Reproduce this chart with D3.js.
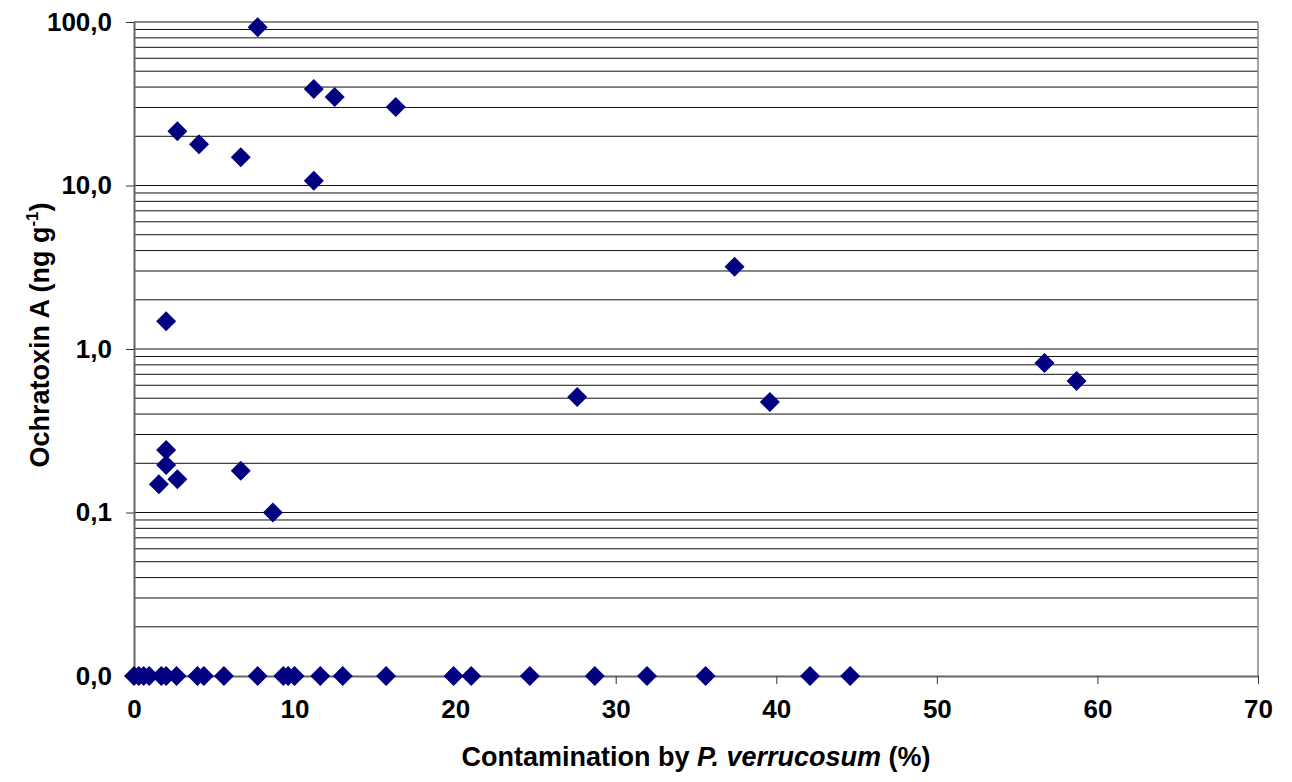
<!DOCTYPE html>
<html>
<head>
<meta charset="utf-8">
<script src="https://cdn.jsdelivr.net/npm/d3@7"></script>
<style>
  body { margin: 0; background: #fff; }
  text { font-family: Arial, "Liberation Sans", sans-serif; font-weight: bold; fill: #000; }
</style>
</head>
<body>
<div id="chart"></div>
<script>
// samples with OTA above detection limit
var pctContam = [7.7, 11.2, 12.5, 16.3, 2.7, 4.05, 6.65, 11.2, 37.4, 2.0, 27.6, 39.6, 56.7, 58.7, 2.0, 2.0, 1.55, 2.7, 6.65, 8.65];
var otaValue  = [93, 38.9, 34.8, 30.2, 21.5, 17.9, 14.9, 10.7, 3.18, 1.48, 0.508, 0.474, 0.82, 0.637, 0.241, 0.195, 0.149, 0.160, 0.18, 0.10];

// samples with no OTA detected (drawn on the 0,0 line)
var pctZero = [0, 0.3, 0.6, 0.95, 1.7, 2.0, 2.65, 3.95, 4.35, 5.6, 7.7, 9.3, 9.6, 10.0, 11.6, 13.0, 15.7, 19.9, 21.0, 24.65, 28.7, 31.95, 35.6, 42.1, 44.6];
var zeroLevel = 0.01;

var xTicks = [0, 10, 20, 30, 40, 50, 60, 70];
var yTicks = [0.01, 0.1, 1, 10, 100];

var width = 1292, height = 782;
var margin = {left: 134, right: 34, top: 22, bottom: 106};

var svg = d3.select("#chart").append("svg")
    .attr("width", width)
    .attr("height", height);

var x = d3.scaleLinear().domain([0, 70]).range([margin.left, width - margin.right]);
var y = d3.scaleLog().domain([0.01, 100]).range([height - margin.bottom, margin.top]);

var comma = d3.formatLocale({decimal: ",", thousands: ".", grouping: [3], currency: ["", ""]}).format(".1f");

// minor + major gridlines, every 1..9 of each decade
var gridVals = [];
[0.01, 0.1, 1, 10].forEach(function(dec) {
    for (var k = 2; k <= 10; k++) gridVals.push(dec * k);
});

svg.append("g").selectAll("line")
    .data(gridVals)
    .enter().append("line")
    .attr("x1", x(0))
    .attr("x2", x(70))
    .attr("y1", function(d) { return y(d); })
    .attr("y2", function(d) { return y(d); })
    .style("stroke", "#111")
    .style("stroke-width", 1);

// right border
svg.append("line")
    .attr("x1", x(70)).attr("x2", x(70))
    .attr("y1", y(100)).attr("y2", y(0.01))
    .style("stroke", "#888")
    .style("stroke-width", 1.5);

// x axis
var xAxis = svg.append("g")
    .attr("transform", "translate(0," + y(0.01) + ")")
    .call(d3.axisBottom(x).tickValues(xTicks).tickSize(8).tickPadding(16).tickSizeOuter(0));
xAxis.select(".domain").style("stroke", "#666").style("stroke-width", 2);
xAxis.selectAll(".tick line").style("stroke", "#333").style("stroke-width", 1);
xAxis.selectAll("text").style("font-size", "26px").style("font-family", "Arial, 'Liberation Sans', sans-serif").style("font-weight", "bold");

// y axis
var yAxis = svg.append("g")
    .attr("transform", "translate(" + x(0) + ",0)")
    .call(d3.axisLeft(y).tickValues(yTicks).tickFormat(comma).tickSize(8).tickPadding(14).tickSizeOuter(0));
yAxis.select(".domain").style("stroke", "#666").style("stroke-width", 2);
yAxis.selectAll(".tick line").style("stroke", "#333").style("stroke-width", 1);
yAxis.selectAll("text").style("font-size", "26px").style("font-family", "Arial, 'Liberation Sans', sans-serif").style("font-weight", "bold");

// markers
var diamond = d3.symbol().type(d3.symbolSquare).size(200);

var pts = pctContam.map(function(v, i) { return {x: v, y: otaValue[i]}; })
    .concat(pctZero.map(function(v) { return {x: v, y: zeroLevel}; }));

svg.append("g").selectAll("path")
    .data(pts)
    .enter().append("path")
    .attr("d", diamond)
    .attr("transform", function(d) {
        return "translate(" + x(d.x) + "," + y(d.y) + ") rotate(45)";
    })
    .style("fill", "#000080");

// axis titles
var xt = svg.append("text")
    .attr("x", 696)
    .attr("y", 766)
    .attr("text-anchor", "middle")
    .style("font-size", "27px");
xt.append("tspan").text("Contamination by ");
xt.append("tspan").style("font-style", "italic").text("P. verrucosum");
xt.append("tspan").text(" (%)");

var yt = svg.append("text")
    .attr("transform", "translate(49,335) rotate(-90)")
    .attr("text-anchor", "middle")
    .style("font-size", "27px");
yt.append("tspan").text("Ochratoxin A (ng g");
yt.append("tspan").attr("dy", -11).style("font-size", "17px").text("-1");
yt.append("tspan").attr("dy", 11).text(")");
</script>
</body>
</html>
